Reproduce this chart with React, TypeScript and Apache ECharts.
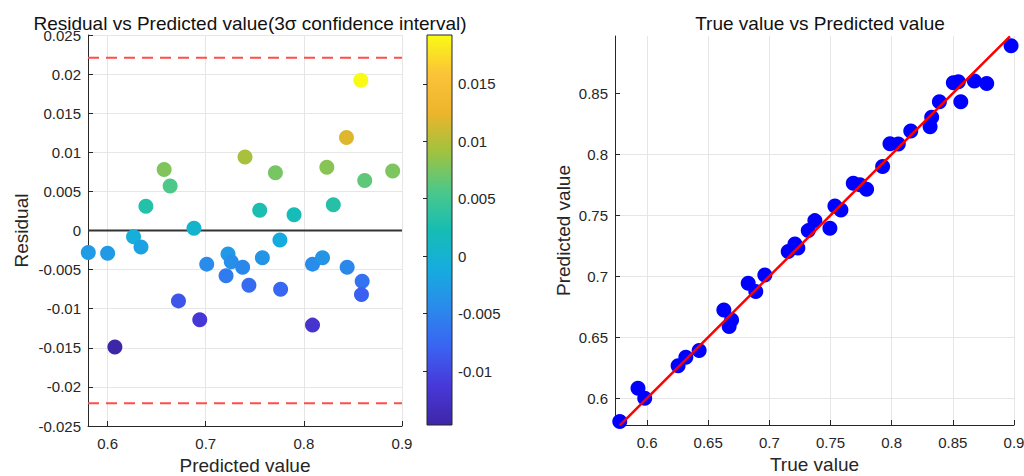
import React, { useEffect, useRef } from "react";
import * as echarts from "echarts";

// ---------- Left chart: residual vs predicted ----------
const leftPredicted = [
  0.6576, 0.6637, 0.639, 0.688, 0.740, 0.755, 0.771, 0.790, 0.8234, 0.830, 0.8434, 0.858,
  0.862, 0.8905, 0.5803, 0.600, 0.6264, 0.634, 0.6074, 0.6722, 0.6939, 0.701, 0.7227, 0.7207,
  0.726, 0.7376, 0.744, 0.7577, 0.7756, 0.7763, 0.8088, 0.819, 0.8088, 0.8441, 0.8594, 0.8587,
];
const residuals = [
  0.0078, 0.0057, 0.0031, 0.0003, 0.0094, 0.0026, 0.0074, 0.0020, 0.0081, 0.0033, 0.0119, 0.0192,
  0.0064, 0.0076, -0.0028, -0.0029, -0.0008, -0.0021, -0.0149, -0.0090, -0.0114, -0.0043, -0.0030, -0.0058,
  -0.0040, -0.0047, -0.0070, -0.0035, -0.0012, -0.0075, -0.0043, -0.0035, -0.0121, -0.0047, -0.0065, -0.0082,
];
const zeroLine = 0;
const sigmaLimits = [0.0221, -0.0221];
const leftXRange = [0.58, 0.9];
const leftYRange = [-0.025, 0.025];
const leftXTicks = [0.6, 0.7, 0.8, 0.9];

// colorbar
const colorRange = [-0.0147, 0.01925];
const colorTicks = [-0.01, -0.005, 0, 0.005, 0.01, 0.015];
const parula = [
  "#3e26a8", "#4838d8", "#3a63f2", "#2a8aeb", "#16acdf", "#16bdb4",
  "#4cc889", "#a0c23f", "#ecb52c", "#fbc338", "#f9fb15",
];

// ---------- Right chart: true vs predicted ----------
const trueValues = [
  0.8976, 0.8504, 0.8545, 0.8565, 0.8676, 0.8777, 0.839, 0.8327, 0.8314, 0.8156, 0.7986, 0.8054,
  0.7926, 0.7686, 0.774, 0.7795, 0.7536, 0.7585, 0.7495, 0.7372, 0.7318, 0.7154, 0.7209, 0.7233,
  0.6963, 0.6827, 0.6889, 0.6628, 0.6691, 0.6671, 0.6426, 0.6317, 0.6254, 0.5926, 0.5981, 0.5777,
];
const predictedValues = [
  0.889, 0.8587, 0.8595, 0.8431, 0.860, 0.858, 0.843, 0.8303, 0.8226, 0.819, 0.8087, 0.8084,
  0.790, 0.7762, 0.775, 0.7713, 0.7576, 0.7543, 0.7393, 0.7456, 0.7374, 0.7202, 0.7265, 0.7232,
  0.7011, 0.6943, 0.6874, 0.6724, 0.6642, 0.6587, 0.639, 0.6336, 0.6265, 0.6082, 0.600, 0.5808,
];
const fitX = [0.5777, 0.8967];
const fitY = [0.5777, 0.8967];
const rightXRange = [0.5738, 0.9];
const rightYRange = [0.578, 0.897];
const rightXTicks = [0.6, 0.65, 0.7, 0.75, 0.8, 0.85, 0.9];
const rightYTicks = [0.6, 0.65, 0.7, 0.75, 0.8, 0.85];

const FONT = "'Liberation Sans', Arial, sans-serif";
const AX = "#262626";
const GRIDC = "#e6e6e6";

function axisBase(extra: any) {
  return {
    type: "value",
    axisLine: { show: true, onZero: false, lineStyle: { color: AX, width: 1 } },
    axisTick: { show: true, inside: true, length: 5, lineStyle: { color: AX } },
    axisLabel: { color: AX, fontSize: 15, fontFamily: FONT },
    splitLine: { show: true, lineStyle: { color: GRIDC, width: 1 } },
    nameLocation: "middle",
    nameTextStyle: { color: AX, fontSize: 19, fontFamily: FONT },
    ...extra,
  };
}

export default function App() {
  const ref = useRef<HTMLDivElement>(null);
  useEffect(() => {
    document.body.style.margin = "0";
    document.body.style.overflow = "hidden";
    const chart = echarts.init(ref.current!, null, { renderer: "svg" });
    const gradientStops = parula
      .map((c, i) => ({ offset: 1 - i / (parula.length - 1), color: c }))
      .reverse();

    const hLine = (y: number, style: any) => ({
      type: "line",
      xAxisIndex: 0,
      yAxisIndex: 0,
      symbol: "none",
      silent: true,
      z: 1,
      lineStyle: style,
      data: [
        [leftXRange[0], y],
        [leftXRange[1], y],
      ],
    });

    const option: any = {
      animation: false,
      textStyle: { fontFamily: FONT },
      title: [
        {
          text: "Residual vs Predicted value(3σ confidence interval)",
          left: 245,
          top: 9,
          textAlign: "center",
          textStyle: { fontSize: 19, fontWeight: "normal", color: "#111", fontFamily: FONT },
        },
        {
          text: "True value vs Predicted value",
          left: 815,
          top: 9,
          textAlign: "center",
          textStyle: { fontSize: 19, fontWeight: "normal", color: "#111", fontFamily: FONT },
        },
      ],
      grid: [
        { left: 88, top: 35, width: 314, height: 391, outerBoundsMode: "none", containLabel: false },
        { left: 427, top: 35, width: 25, height: 390, outerBoundsMode: "none", containLabel: false },
        { left: 615, top: 36, width: 399, height: 389, outerBoundsMode: "none", containLabel: false },
      ],
      xAxis: [
        axisBase({
          gridIndex: 0,
          min: leftXRange[0],
          max: leftXRange[1],
          splitNumber: 3,
          axisTick: { show: true, inside: true, length: 5, lineStyle: { color: AX }, customValues: leftXTicks },
          axisLabel: { color: AX, fontSize: 15, fontFamily: FONT, margin: 10, customValues: leftXTicks },
          name: "Predicted value",
          nameGap: 30,
        }),
        { type: "value", gridIndex: 1, min: 0, max: 1, show: false },
        axisBase({
          gridIndex: 2,
          min: rightXRange[0],
          max: rightXRange[1],
          splitNumber: 6,
          axisTick: { show: true, inside: true, length: 5, lineStyle: { color: AX }, customValues: rightXTicks },
          axisLabel: { color: AX, fontSize: 15, fontFamily: FONT, margin: 10, customValues: rightXTicks },
          name: "True value",
          nameGap: 30,
        }),
      ],
      yAxis: [
        axisBase({
          gridIndex: 0,
          min: leftYRange[0],
          max: leftYRange[1],
          interval: 0.005,
          axisLabel: { color: AX, fontSize: 15, fontFamily: FONT, margin: 7 },
          name: "Residual",
          nameGap: 57,
        }),
        {
          type: "value",
          gridIndex: 1,
          position: "right",
          min: colorRange[0],
          max: colorRange[1],
          axisLine: { show: false },
          splitLine: { show: false },
          axisTick: { show: true, inside: true, length: 4, lineStyle: { color: AX }, customValues: colorTicks },
          axisLabel: { color: AX, fontSize: 15, fontFamily: FONT, margin: 6, customValues: colorTicks },
        },
        axisBase({
          gridIndex: 2,
          min: rightYRange[0],
          max: rightYRange[1],
          splitNumber: 6,
          axisTick: { show: true, inside: true, length: 5, lineStyle: { color: AX }, customValues: rightYTicks },
          axisLabel: { color: AX, fontSize: 15, fontFamily: FONT, margin: 7, customValues: rightYTicks },
          splitLine: { show: true, showMaxLine: false, lineStyle: { color: GRIDC, width: 1 } },
          name: "Predicted value",
          nameGap: 42,
        }),
      ],
      visualMap: {
        type: "continuous",
        show: false,
        seriesIndex: 0,
        dimension: 1,
        min: colorRange[0],
        max: colorRange[1],
        inRange: { color: parula },
      },
      series: [
        {
          type: "scatter",
          xAxisIndex: 0,
          yAxisIndex: 0,
          symbolSize: 15,
          z: 3,
          itemStyle: { opacity: 1 },
          data: leftPredicted.map((p, i) => [p, residuals[i]]),
        },
        hLine(zeroLine, { color: "#333333", width: 2, type: "solid" }),
        ...sigmaLimits.map((v) => hLine(v, { color: "#ff4d4d", width: 2, type: [11, 7] })),
        {
          type: "custom",
          xAxisIndex: 1,
          yAxisIndex: 1,
          silent: true,
          data: [[0, colorRange[0], colorRange[1]]],
          encode: { x: 0, y: [1, 2] },
          renderItem: (params: any, api: any) => {
            const tl = api.coord([0, api.value(2)]);
            const br = api.coord([1, api.value(1)]);
            return {
              type: "rect",
              shape: { x: tl[0], y: tl[1], width: br[0] - tl[0], height: br[1] - tl[1] },
              style: {
                fill: new echarts.graphic.LinearGradient(0, 0, 0, 1, gradientStops),
                stroke: AX,
                lineWidth: 1,
              },
            };
          },
        },
        {
          type: "scatter",
          xAxisIndex: 2,
          yAxisIndex: 2,
          symbolSize: 15,
          itemStyle: { color: "#0000ff", opacity: 1 },
          z: 3,
          data: trueValues.map((t, i) => [t, predictedValues[i]]),
        },
        {
          type: "line",
          xAxisIndex: 2,
          yAxisIndex: 2,
          symbol: "none",
          z: 4,
          lineStyle: { color: "#ff0000", width: 2.5 },
          data: fitX.map((x, i) => [x, fitY[i]]),
        },
      ],
    };
    chart.setOption(option);
    return () => chart.dispose();
  }, []);
  return <div ref={ref} style={{ width: 1024, height: 476, overflow: "hidden" }} />;
}
